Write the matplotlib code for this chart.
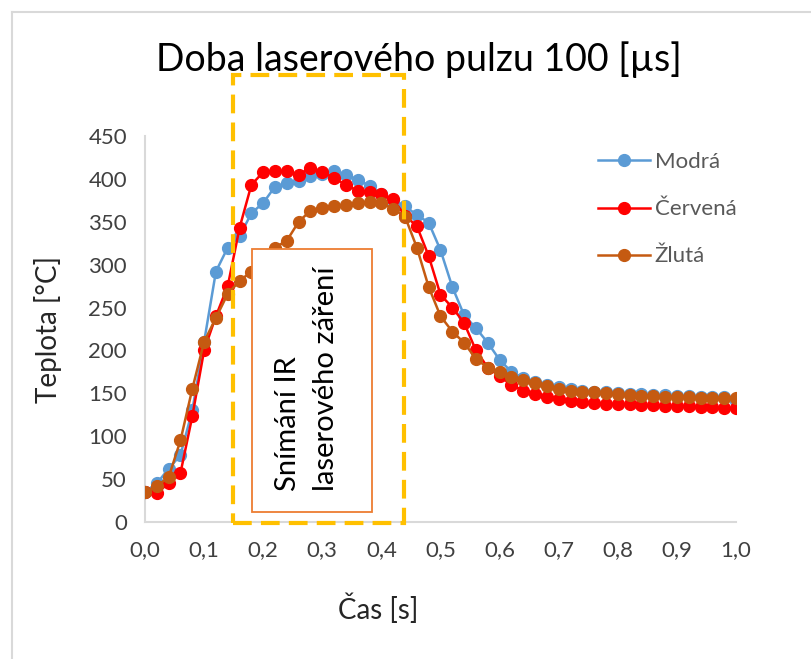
import matplotlib
matplotlib.use("Agg")
import matplotlib.pyplot as plt
from matplotlib.patches import Rectangle
from matplotlib.lines import Line2D
from matplotlib.ticker import FuncFormatter

plt.rcParams['font.family'] = ['Lato', 'DejaVu Sans']

# time axis [s]
cas = [0.00, 0.02, 0.04, 0.06, 0.08, 0.10, 0.12, 0.14, 0.16, 0.18,
       0.20, 0.22, 0.24, 0.26, 0.28, 0.30, 0.32, 0.34, 0.36, 0.38,
       0.40, 0.42, 0.44, 0.46, 0.48, 0.50, 0.52, 0.54, 0.56, 0.58,
       0.60, 0.62, 0.64, 0.66, 0.68, 0.70, 0.72, 0.74, 0.76, 0.78,
       0.80, 0.82, 0.84, 0.86, 0.88, 0.90, 0.92, 0.94, 0.96, 0.98,
       1.00]

modra = [35, 45, 62, 78, 130, 210, 292, 320, 333, 360,
         372, 391, 395, 398, 403, 406, 409, 405, 399, 392,
         382, 375, 368, 358, 349, 317, 274, 241, 226, 209,
         189, 175, 168, 163, 160, 157, 155, 153, 152, 151,
         150, 149, 149, 148, 148, 147, 147, 146, 146, 146,
         141]

cervena = [35, 34, 45, 57, 123, 200, 240, 275, 343, 393,
           408, 409, 409, 405, 413, 408, 401, 393, 386, 385,
           382, 376, 357, 345, 310, 265, 250, 232, 200, 180,
           170, 160, 153, 149, 146, 143, 141, 140, 139, 138,
           137, 137, 136, 136, 135, 135, 135, 134, 134, 133,
           133]

zluta = [35, 42, 52, 95, 155, 210, 238, 266, 281, 292,
         303, 320, 328, 350, 363, 366, 368, 370, 372, 373,
         372, 365, 356, 320, 274, 240, 222, 209, 190, 180,
         175, 169, 165, 162, 158, 155, 153, 152, 151, 150,
         149, 148, 147, 147, 146, 146, 146, 145, 145, 145,
         145]

fig = plt.figure(figsize=(8.11, 6.59), dpi=100)
ax = fig.add_axes([0.1788, 0.208, 0.7287, 0.5856])

ax.plot(cas, modra, color="#5B9BD5", lw=1.8, marker="o", ms=8.5, label="Modrá", zorder=3)
ax.plot(cas, cervena, color="#FF0000", lw=1.8, marker="o", ms=8.5, label="Červená", zorder=4)
ax.plot(cas, zluta, color="#C55A11", lw=1.8, marker="o", ms=8.5, label="Žlutá", zorder=5)

ax.set_xlim(0, 1.0)
ax.set_ylim(0, 450)
ax.set_xticks([0.0, 0.1, 0.2, 0.3, 0.4, 0.5, 0.6, 0.7, 0.8, 0.9, 1.0])
ax.set_yticks(range(0, 451, 50))
ax.xaxis.set_major_formatter(FuncFormatter(lambda v, p: f"{v:.1f}".replace(".", ",")))
ax.tick_params(length=0, labelsize=16, colors="#404040")
ax.tick_params(axis="x", pad=13)
ax.tick_params(axis="y", pad=13)
for s in ["top", "right"]:
    ax.spines[s].set_visible(False)
for s in ["left", "bottom"]:
    ax.spines[s].set_color("#D9D9D9")
    ax.spines[s].set_linewidth(1.5)

# box with the text
box = Rectangle((0.181, 12), 0.203, 306, facecolor="white", edgecolor="#ED7D31",
                lw=1.3, zorder=6)
ax.add_patch(box)
ax.text(0.274, 36, "Snímání IR\nlaserového záření", rotation=90, ha="center",
        va="bottom", multialignment="left", fontsize=21, color="black",
        linespacing=1.55, zorder=7)

# dashed yellow frame
frame = Rectangle((0.149, -1), 0.289, 522, fill=False, edgecolor="#FFC000",
                  lw=3, linestyle=(0, (4.5, 2.2)), clip_on=False, zorder=8)
ax.add_patch(frame)

ax.legend(loc="upper left", bbox_to_anchor=(0.766, 0.958), frameon=False,
          fontsize=16, labelcolor="#595959", handlelength=2.35,
          handletextpad=0.22, labelspacing=1.22, borderpad=0, borderaxespad=0)

fig.text(0.517, 0.909, "Doba laserového pulzu 100 [µs]", ha="center", va="center",
         fontsize=27, color="black")
fig.text(0.059, 0.5, "Teplota [°C]", rotation=90, ha="center", va="center",
         fontsize=20, color="#262626")
fig.text(0.466, 0.077, "Čas [s]", ha="center", va="center", fontsize=20, color="#262626")

# chart border remnants (top and left)
fig.add_artist(Line2D([0.015, 1.0], [0.982, 0.982], color="#D9D9D9", lw=1.5))
fig.add_artist(Line2D([0.015, 0.015], [0.0, 0.982], color="#D9D9D9", lw=1.5))

fig.savefig("out.png", dpi=100)
